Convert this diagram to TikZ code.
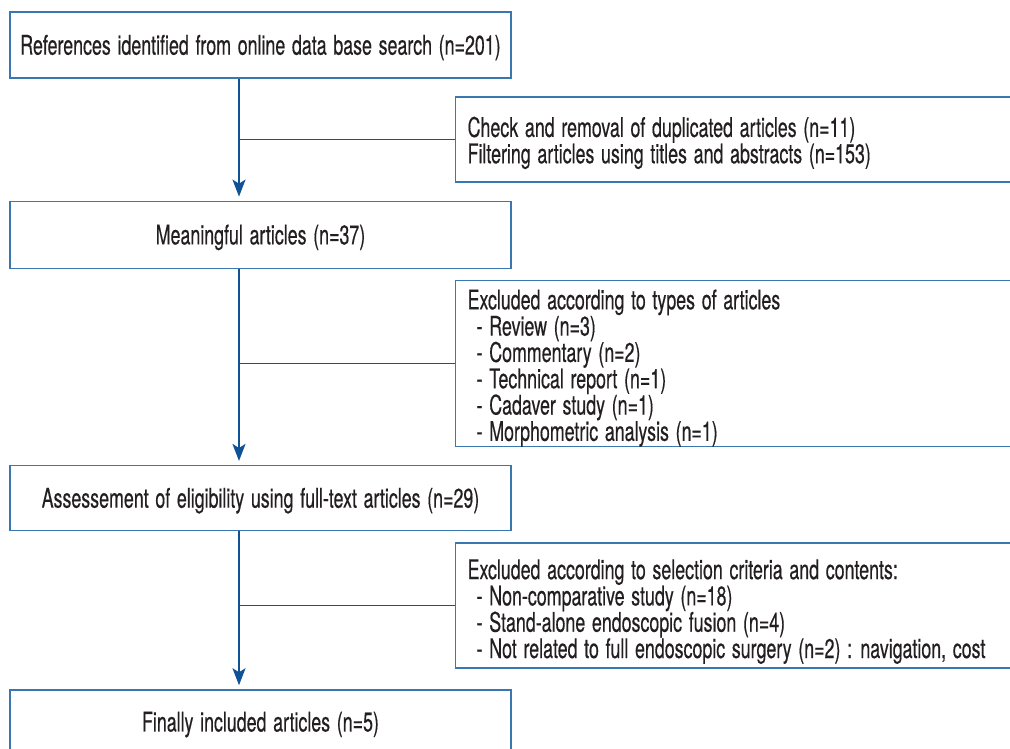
\documentclass[tikz,border=0pt]{standalone}
\usepackage{fontspec}
\setmainfont{TeX Gyre Heros}[FakeStretch=0.66, WordSpace=1.35, FakeBold=0.4]
\usetikzlibrary{positioning,arrows.meta}
\definecolor{boxblue}{RGB}{58,118,176}
\definecolor{arrowblue}{RGB}{16,82,150}
\definecolor{inkgray}{RGB}{35,31,32}
\newcommand{\firstline}[1]{\rule{0pt}{#1}}

\begin{document}
\begin{tikzpicture}[font=\fontsize{27}{26.3}\selectfont, text=inkgray,
  every node/.style={draw=boxblue, line width=1.3pt, inner sep=0pt},
  stage/.style={minimum width=501pt, align=center},
  excl/.style={minimum width=560pt, text width=536pt, inner xsep=12pt, align=flush left, anchor=west},
  flow/.style={draw=arrowblue, line width=1.8pt},
  tip/.style={-{Stealth[length=17pt,width=13pt,inset=4pt]}, shorten >=4pt}]
  \useasboundingbox (0,0) rectangle (1010pt,-749pt);

  \node (refs) [stage, minimum height=66pt] at (260.5pt,-45pt) {\firstline{25pt}References identified from online data base search (n=201)};
  \node (meaning) [stage, minimum height=67pt, below=122pt of refs] {\firstline{25pt}Meaningful articles (n=37)};
  \node (assess) [stage, minimum height=65pt, below=196pt of meaning] {\firstline{25pt}Assessement of eligibility using full-text articles (n=29)};
  \node (final) [stage, minimum height=64pt, below=158pt of assess] {\firstline{25pt}Finally included articles (n=5)};

  \node (dupl) [excl, minimum height=85pt] at (455pt,-139.5pt) {\firstline{27pt}Check and removal of duplicated articles (n=11)\\Filtering articles using titles and abstracts (n=153)};
  \node (types) [excl, minimum height=157pt] at (455pt,-363.5pt) {\firstline{29pt}Excluded according to types of articles\\
    \hspace*{9pt}- Review (n=3)\\
    \hspace*{9pt}- Commentary (n=2)\\
    \hspace*{9pt}- Technical report (n=1)\\
    \hspace*{9pt}- Cadaver study (n=1)\\
    \hspace*{9pt}- Morphometric analysis (n=1)};
  \node (criteria) [excl, minimum height=125pt] at (455pt,-605.5pt) {\firstline{32pt}Excluded according to selection criteria and contents:\\
    \hspace*{9pt}- Non-comparative study (n=18)\\
    \hspace*{9pt}- Stand-alone endoscopic fusion (n=4)\\
    \hspace*{9pt}- Not related to full endoscopic surgery (n=2) : navigation, cost};

  \coordinate (trunk) at (239pt,0);
  \draw[flow, tip] (refs.south -| trunk) -- (meaning.north -| trunk);
  \draw[flow, tip] (meaning.south -| trunk) -- (assess.north -| trunk);
  \draw[flow, tip] (assess.south -| trunk) -- (final.north -| trunk);
  \draw[flow] (dupl.west -| trunk) -- (dupl.west);
  \draw[flow] (types.west -| trunk) -- (types.west);
  \draw[flow] (criteria.west -| trunk) -- (criteria.west);
\end{tikzpicture}
\end{document}
